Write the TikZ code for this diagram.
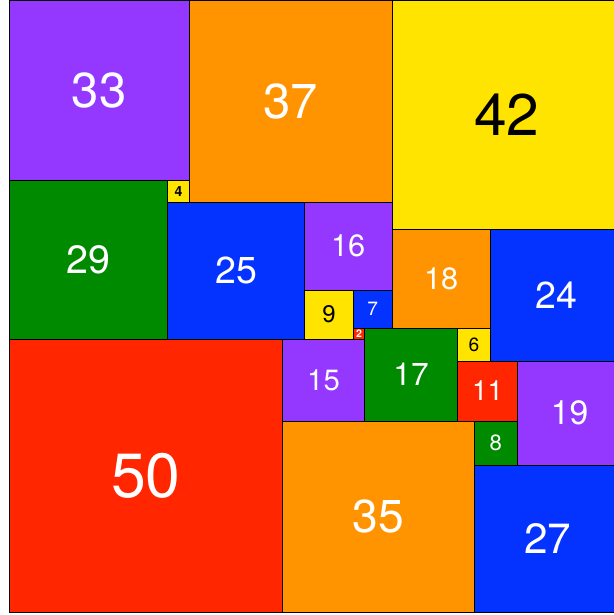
\documentclass[tikz,border=0pt]{standalone}
\usepackage{fontspec}
\setmainfont{TeX Gyre Heros}
\definecolor{cpurple}{HTML}{9437FF}
\definecolor{corange}{HTML}{FF9300}
\definecolor{cyellow}{HTML}{FFE400}
\definecolor{cgreen}{HTML}{008A00}
\definecolor{cblue}{HTML}{0433FF}
\definecolor{cred}{HTML}{FF2600}
\tikzset{sqbox/.style={draw=black,line width=0.8pt,inner sep=0pt,outer sep=0pt,shape=rectangle}}
\newcommand\sqr[6]{\node[sqbox,fill=#4,text=#5,minimum size=#3*0.2cm,font=#6] (s#3) at ({(#1+#3/2)*0.2},{-(#2+#3/2)*0.2}) {#3};}
\newcommand\fs[1]{\fontsize{#1}{#1}\selectfont}
\begin{document}
\begin{tikzpicture}
\useasboundingbox (-1.645*0.2,0) rectangle (110.42*0.2,-112.43*0.2);
\sqr{0}{0}{33}{cpurple}{white}{\fs{51}}
\sqr{33}{0}{37}{corange}{white}{\fs{51}}
\sqr{70}{0}{42}{cyellow}{black}{\fs{61}}
\sqr{0}{33}{29}{cgreen}{white}{\fs{41}}
\sqr{29}{33}{4}{cyellow}{black}{\fs{14.5}\bfseries}
\sqr{29}{37}{25}{cblue}{white}{\fs{39}}
\sqr{54}{37}{16}{cpurple}{white}{\fs{32}}
\sqr{70}{42}{18}{corange}{white}{\fs{32}}
\sqr{88}{42}{24}{cblue}{white}{\fs{39}}
\sqr{54}{53}{9}{cyellow}{black}{\fs{25}}
\sqr{63}{53}{7}{cblue}{white}{\fs{20}}
\sqr{63}{60}{2}{cred}{white}{\fs{11}\bfseries}
\sqr{0}{62}{50}{cred}{white}{\fs{65}}
\sqr{50}{62}{15}{cpurple}{white}{\fs{30.5}}
\sqr{65}{60}{17}{cgreen}{white}{\fs{33}}
\sqr{82}{60}{6}{cyellow}{black}{\fs{20}}
\sqr{82}{66}{11}{cred}{white}{\fs{29}}
\sqr{93}{66}{19}{cpurple}{white}{\fs{35}}
\sqr{50}{77}{35}{corange}{white}{\fs{48}}
\sqr{85}{77}{8}{cgreen}{white}{\fs{23}}
\sqr{85}{85}{27}{cblue}{white}{\fs{44}}
\end{tikzpicture}
\end{document}
